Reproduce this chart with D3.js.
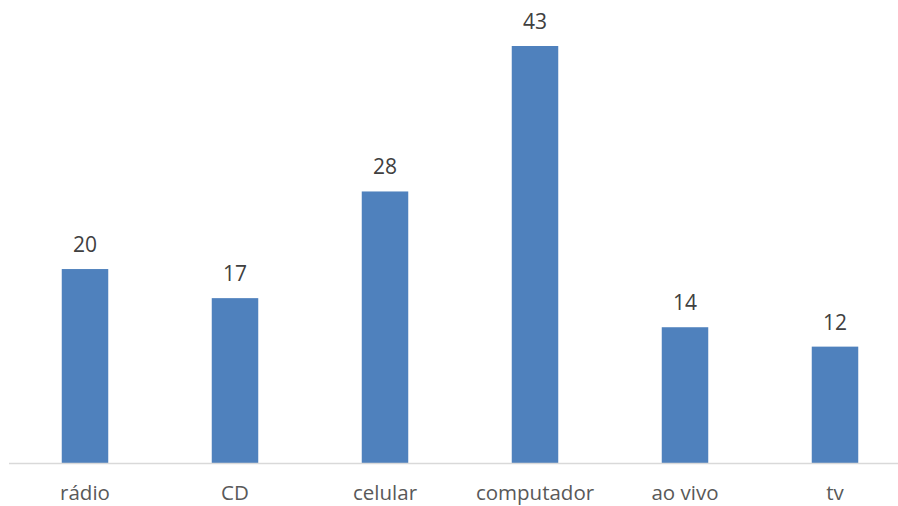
<!DOCTYPE html>
<html><head><meta charset="utf-8">
<script src="https://cdn.jsdelivr.net/npm/d3@7"></script>
<style>body{margin:0;background:#fff}svg{display:block}</style>
</head><body>
<script>
const categories = ["rádio","CD","celular","computador","ao vivo","tv"];
const values = [20,17,28,43,14,12];

const W=898,H=506;
const svg=d3.select("body").append("svg").attr("width",W).attr("height",H);
const baseY=463;
const x=d3.scaleBand().domain(categories).range([10,910]).paddingInner(0.69).paddingOuter(0.345);
const y=d3.scaleLinear().domain([0,43]).range([baseY,46]);
const font="'Open Sans', sans-serif";

svg.selectAll("rect.bar").data(values).join("rect")
  .attr("x",(d,i)=>x(categories[i]))
  .attr("y",d=>y(d))
  .attr("width",x.bandwidth())
  .attr("height",d=>baseY-y(d))
  .attr("fill","#4f81bd");

svg.append("line").attr("x1",9).attr("x2",898).attr("y1",baseY+0.5).attr("y2",baseY+0.5)
  .attr("stroke","#d9d9d9").attr("stroke-width",1.5);

svg.selectAll("text.val").data(values).join("text")
  .attr("x",(d,i)=>x(categories[i])+x.bandwidth()/2)
  .attr("y",d=>y(d)-17)
  .attr("text-anchor","middle")
  .attr("font-family",font).attr("font-size",21).attr("fill","#404040")
  .text(d=>d);

svg.selectAll("text.cat").data(categories).join("text")
  .attr("x",d=>x(d)+x.bandwidth()/2)
  .attr("y",500)
  .attr("text-anchor","middle")
  .attr("font-family",font).attr("font-size",20.5).attr("fill","#595959")
  .text(d=>d);
</script>
</body></html>
